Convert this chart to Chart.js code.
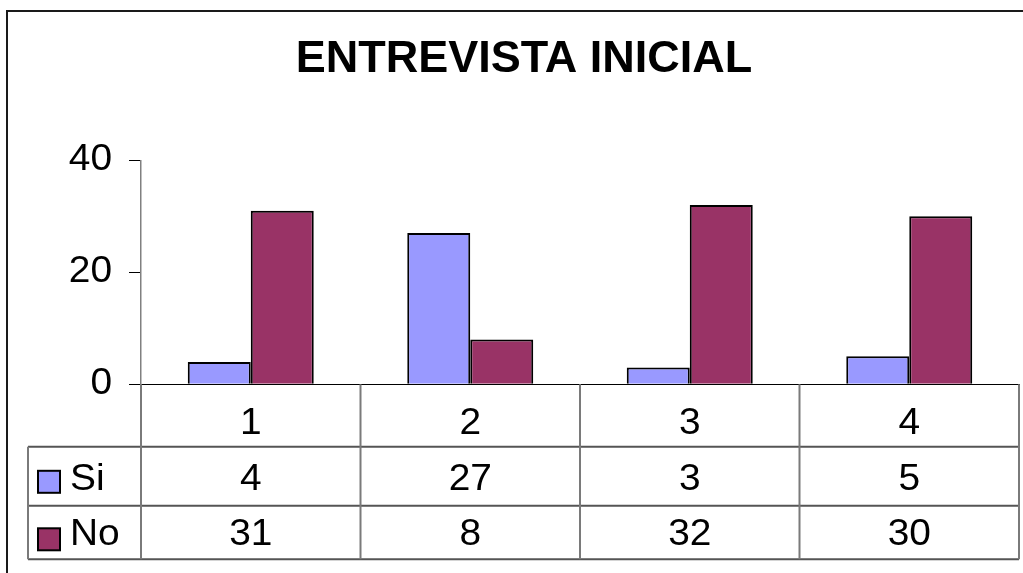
<!DOCTYPE html>
<html lang="es">
  <head>
    <meta charset="UTF-8" />
    <title>Entrevista inicial</title>
    <script src="https://cdn.jsdelivr.net/npm/chart.js@4.4.0/dist/chart.umd.min.js"></script>
    <style>
      body { margin: 0; background: #fff; }
      .contenedor { position: relative; width: 1023px; height: 573px; }
    </style>
  </head>
  <body>
    <div class="contenedor">
      <canvas id="grafico"></canvas>
    </div>
  </body>
  <script>
    var categorias = ["1", "2", "3", "4"];
    var series = ["Si", "No"];
    var valoresSi = [4, 27, 3, 5];
    var valoresNo = [31, 8, 32, 30];
    var colores = ["#9999FF", "#993366"];
    var ticksY = [0, 20, 40];

    // los números y leyendas del original salen un poco más anchos
    var ESTIRAR = 1.08;
    var fuente = "'Liberation Sans', Arial, sans-serif";

    var canvas = document.getElementById("grafico");
    var ctx = canvas.getContext("2d");
    var fillOriginal = ctx.fillText;
    ctx.fillText = function (texto, x, y) {
      if (this.font.indexOf("bold") === 0) {
        fillOriginal.call(this, texto, x, y);
        return;
      }
      this.save();
      this.translate(x, y);
      this.scale(ESTIRAR, 1);
      fillOriginal.call(this, texto, 0, 0);
      this.restore();
    };

    var marco = {
      id: "marco",
      beforeDraw(chart) {
        const c = chart.ctx;
        c.save();
        c.strokeStyle = "#1a1a1a";
        c.lineWidth = 2;
        c.strokeRect(7, 11, 1200, 800);
        c.restore();
      },
    };

    var tablaDatos = {
      id: "tablaDatos",
      afterDraw(chart) {
        const c = chart.ctx;
        const x = chart.scales.x;
        const arriba = x.top;
        const filas = [arriba, arriba + 62.5, arriba + 121.5, arriba + 175];
        const izq = chart.chartArea.left - 113;
        const bordes = [];
        for (let i = 0; i <= categorias.length; i++) {
          bordes.push(x.getPixelForValue(i - 0.5));
        }
        const der = bordes[bordes.length - 1];

        c.save();
        c.lineWidth = 2;
        c.strokeStyle = "#555";
        c.beginPath();
        for (let f = 1; f < filas.length; f++) {
          c.moveTo(izq, filas[f]);
          c.lineTo(der, filas[f]);
        }
        c.stroke();

        c.strokeStyle = "#7a7a7a";
        c.beginPath();
        bordes.forEach(function (b) {
          c.moveTo(b, arriba);
          c.lineTo(b, filas[3]);
        });
        c.moveTo(izq, filas[1]);
        c.lineTo(izq, filas[3]);
        c.stroke();

        const centros = [arriba + 96, arriba + 151];
        const llaves = [arriba + 86.5, arriba + 144];
        c.font = "36px " + fuente;
        c.textBaseline = "middle";
        [valoresSi, valoresNo].forEach(function (valores, s) {
          c.fillStyle = "#000";
          c.textAlign = "center";
          valores.forEach(function (v, i) {
            c.fillText(String(v), x.getPixelForValue(i), centros[s]);
          });
          c.textAlign = "left";
          c.fillText(series[s], izq + 42, centros[s]);

          c.fillStyle = colores[s];
          c.fillRect(izq + 10, llaves[s], 22, 22);
          c.strokeStyle = "#000";
          c.lineWidth = 2;
          c.strokeRect(izq + 10, llaves[s], 22, 22);
        });
        c.restore();
      },
    };

    Chart.defaults.font.family = fuente;
    Chart.defaults.color = "#000";

    var grafico = new Chart(ctx, {
      type: "bar",
      data: {
        labels: categorias,
        datasets: [
          {
            label: series[0],
            data: valoresSi,
            backgroundColor: colores[0],
            borderColor: "#000",
            borderWidth: 2,
          },
          {
            label: series[1],
            data: valoresNo,
            backgroundColor: colores[1],
            borderColor: "#000",
            borderWidth: 2,
          },
        ],
      },
      options: {
        responsive: true,
        maintainAspectRatio: false,
        animation: false,
        datasets: {
          bar: { categoryPercentage: 0.574, barPercentage: 1 },
        },
        layout: { padding: { left: 29, right: 4, top: 0, bottom: 0 } },
        plugins: {
          legend: { display: false },
          tooltip: { enabled: false },
          title: {
            display: true,
            text: "ENTREVISTA INICIAL",
            color: "#000",
            font: { size: 45, weight: "bold", family: fuente },
            padding: { top: 32.5, bottom: 73.8 },
          },
        },
        scales: {
          x: {
            grid: { display: false },
            border: { display: true, color: "#000", width: 1 },
            ticks: {
              font: { size: 36 },
              padding: 10,
              maxRotation: 0,
              autoSkip: false,
            },
            afterFit(scale) {
              scale.height = 573 - 384.3;
            },
          },
          y: {
            min: ticksY[0],
            max: ticksY[ticksY.length - 1],
            grid: {
              drawOnChartArea: false,
              drawTicks: true,
              tickLength: 12,
              color: "#000",
            },
            border: { display: true, color: "#808080", width: 1.5 },
            ticks: {
              stepSize: ticksY[1] - ticksY[0],
              font: { size: 36 },
              padding: 17,
            },
            afterFit(scale) {
              scale.width = 112;
            },
          },
        },
      },
      plugins: [marco, tablaDatos],
    });
  </script>
</html>
